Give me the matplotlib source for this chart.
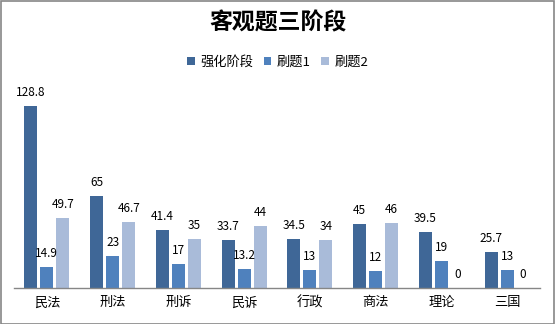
import matplotlib
matplotlib.use("Agg")
import matplotlib.pyplot as plt
from matplotlib.patches import Rectangle, Patch
import numpy as np

plt.rcParams['font.family'] = ['Noto Sans CJK SC', 'DejaVu Sans']

categories = ['民法', '刑法', '刑诉', '民诉', '行政', '商法', '理论', '三国']
series_names = ['强化阶段', '刷题1', '刷题2']
qianghua = [128.8, 65, 41.4, 33.7, 34.5, 45, 39.5, 25.7]
shuati1 = [14.9, 23, 17, 13.2, 13, 12, 19, 13]
shuati2 = [49.7, 46.7, 35, 44, 34, 46, 0, 0]
colors = ['#3F6797', '#4F81BD', '#A9BBD9']

W, H = 555, 324
fig = plt.figure(figsize=(W/100, H/100), dpi=100)
fig.patches.append(Rectangle((0.5/W, 0.5/H), 1 - 1.5/W, 1 - 1.5/H, transform=fig.transFigure,
                             fill=False, edgecolor='#868686', linewidth=1.2))

ax_l, ax_r, ax_b, ax_t = 14, 540, 288, 88
ax = fig.add_axes([ax_l/W, (H-ax_b)/H, (ax_r-ax_l)/W, (ax_b-ax_t)/H])
ax.set_xlim(0, len(categories))
ax.set_ylim(0, 200/1.413)

x = np.arange(len(categories)) + 0.5
bw = 13/65.75
step = 16/65.75
for k, vals in enumerate([qianghua, shuati1, shuati2]):
    xs = x + (k-1)*step
    ax.bar(xs, vals, width=bw, color=colors[k], label=series_names[k])
    for xi, v in zip(xs, vals):
        lab = ('%g' % v)
        ax.annotate(lab, (xi, v), xytext=(0, 5), textcoords='offset points',
                    ha='center', va='bottom', fontsize=8.5, color='#000000')

for s in ['top', 'right', 'left']:
    ax.spines[s].set_visible(False)
ax.spines['bottom'].set_color('#868686')
ax.spines['bottom'].set_linewidth(1.0)
ax.set_yticks([])
ax.set_xticks(x)
ax.set_xticklabels(categories, fontsize=9.5)
ax.tick_params(axis='x', length=0, pad=6)

fig.text(0.5, 1 - 23/H, '客观题三阶段', ha='center', va='center', fontsize=16.5, fontweight='bold')
handles = [Patch(facecolor=c, edgecolor='none') for c in colors]
fig.legend(handles, series_names, loc='center', bbox_to_anchor=(0.5, 1 - 62/H), ncol=3,
           frameon=False, fontsize=9.5, handlelength=0.6, handleheight=0.6,
           columnspacing=0.8, handletextpad=0.4)

fig.savefig('out.png', dpi=100)
